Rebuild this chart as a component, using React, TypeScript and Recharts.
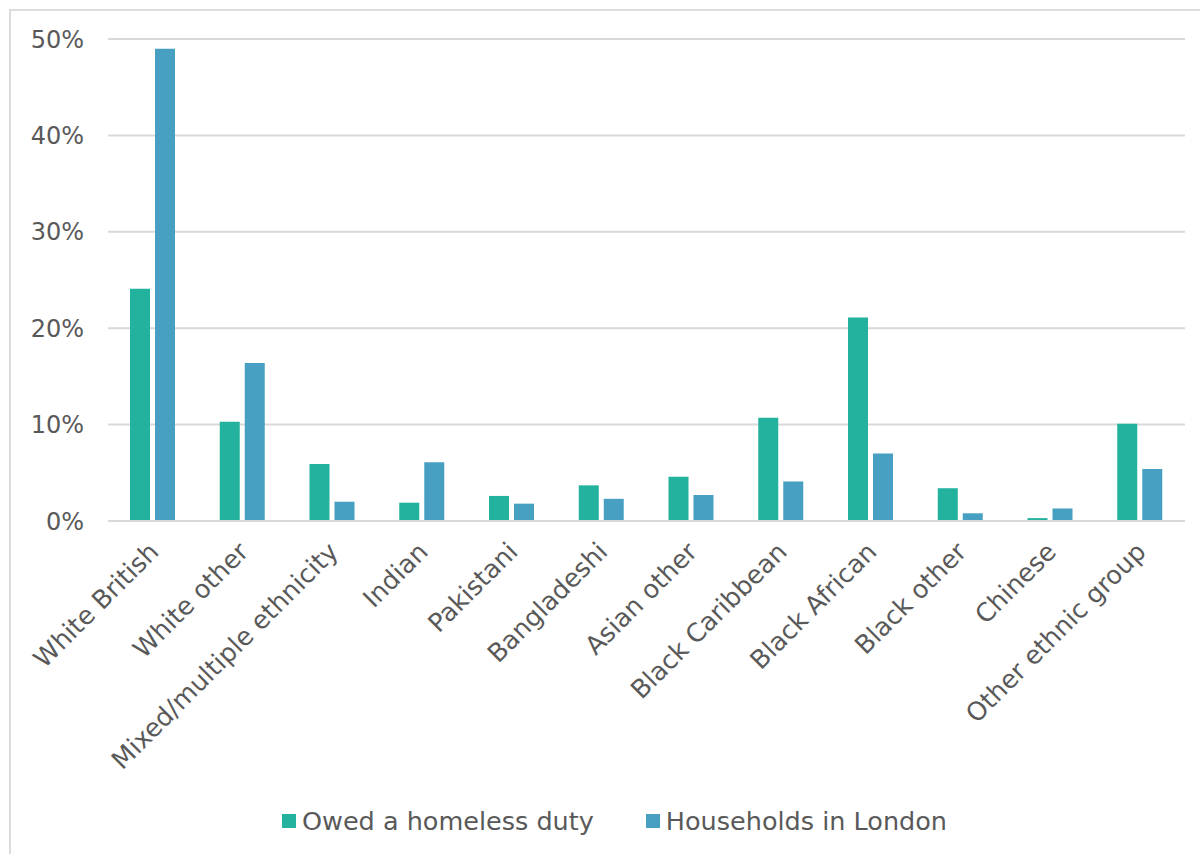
import { Bar, BarChart, CartesianGrid, Legend, XAxis, YAxis } from 'recharts';

// #region data
const groups = [
  'White British',
  'White other',
  'Mixed/multiple ethnicity',
  'Indian',
  'Pakistani',
  'Bangladeshi',
  'Asian other',
  'Black Caribbean',
  'Black African',
  'Black other',
  'Chinese',
  'Other ethnic group',
];
const owedDuty = [24.1, 10.3, 5.9, 1.9, 2.6, 3.7, 4.6, 10.7, 21.1, 3.4, 0.3, 10.1];
const londonHouseholds = [49.0, 16.4, 2.0, 6.1, 1.8, 2.3, 2.7, 4.1, 7.0, 0.8, 1.3, 5.4];
const yTicks = [0, 10, 20, 30, 40, 50];
// #endregion

const data = groups.map((name, i) => ({
  name,
  owed: owedDuty[i],
  london: londonHouseholds[i],
}));

const FONT = '"DejaVu Sans", sans-serif';
const GREEN = '#22b29d';
const BLUE = '#47a0c2';
const TEXT = '#595959';

const RotatedTick = (props: any) => {
  const { x, y, payload } = props;
  const ax = x + 1;
  const ay = y + 18;
  return (
    <text
      x={ax}
      y={ay}
      transform={`rotate(-45, ${ax}, ${ay})`}
      textAnchor="end"
      dy="0.35em"
      fill={TEXT}
      fontSize={25.5}
      fontFamily={FONT}
    >
      {payload.value}
    </text>
  );
};

const LegendBox = () => (
  <div
    style={{
      display: 'flex',
      justifyContent: 'center',
      alignItems: 'center',
      height: 30,
      paddingLeft: 44,
      fontFamily: FONT,
      fontSize: 25.5,
      color: TEXT,
    }}
  >
    <span style={{ display: 'flex', alignItems: 'center', marginRight: 52 }}>
      <span style={{ width: 14, height: 14, background: GREEN, marginRight: 6 }} />
      Owed a homeless duty
    </span>
    <span style={{ display: 'flex', alignItems: 'center' }}>
      <span style={{ width: 14, height: 14, background: BLUE, marginRight: 6 }} />
      Households in London
    </span>
  </div>
);

export default function App() {
  return (
    <div
      style={{
        position: 'absolute',
        left: 0,
        top: 0,
        width: 1200,
        height: 854,
        overflow: 'hidden',
        background: '#fff',
      }}
    >
      <div
        style={{
          position: 'absolute',
          left: 9,
          top: 9,
          width: 1300,
          height: 1000,
          border: '2px solid #dcdcdc',
        }}
      />
      <BarChart
        width={1200}
        height={854}
        data={data}
        margin={{ top: 39, right: 15, bottom: 18, left: 0 }}
        barSize={20}
        barGap={5}
        style={{ position: 'absolute', left: 0, top: 0 }}
      >
        <CartesianGrid vertical={false} stroke="#d9d9d9" strokeWidth={2} />
        <XAxis
          dataKey="name"
          interval={0}
          tick={<RotatedTick />}
          tickLine={false}
          axisLine={{ stroke: '#d9d9d9', strokeWidth: 2 }}
          height={285}
        />
        <YAxis
          width={108}
          domain={[0, 50]}
          ticks={yTicks}
          tickFormatter={(v) => `${v}%`}
          axisLine={false}
          tickLine={false}
          tickSize={0}
          tickMargin={24}
          tick={{ fill: TEXT, fontSize: 24, fontFamily: FONT }}
        />
        <Legend verticalAlign="bottom" content={<LegendBox />} />
        <Bar dataKey="owed" name="Owed a homeless duty" fill={GREEN} isAnimationActive={false} />
        <Bar dataKey="london" name="Households in London" fill={BLUE} isAnimationActive={false} />
      </BarChart>
    </div>
  );
}
